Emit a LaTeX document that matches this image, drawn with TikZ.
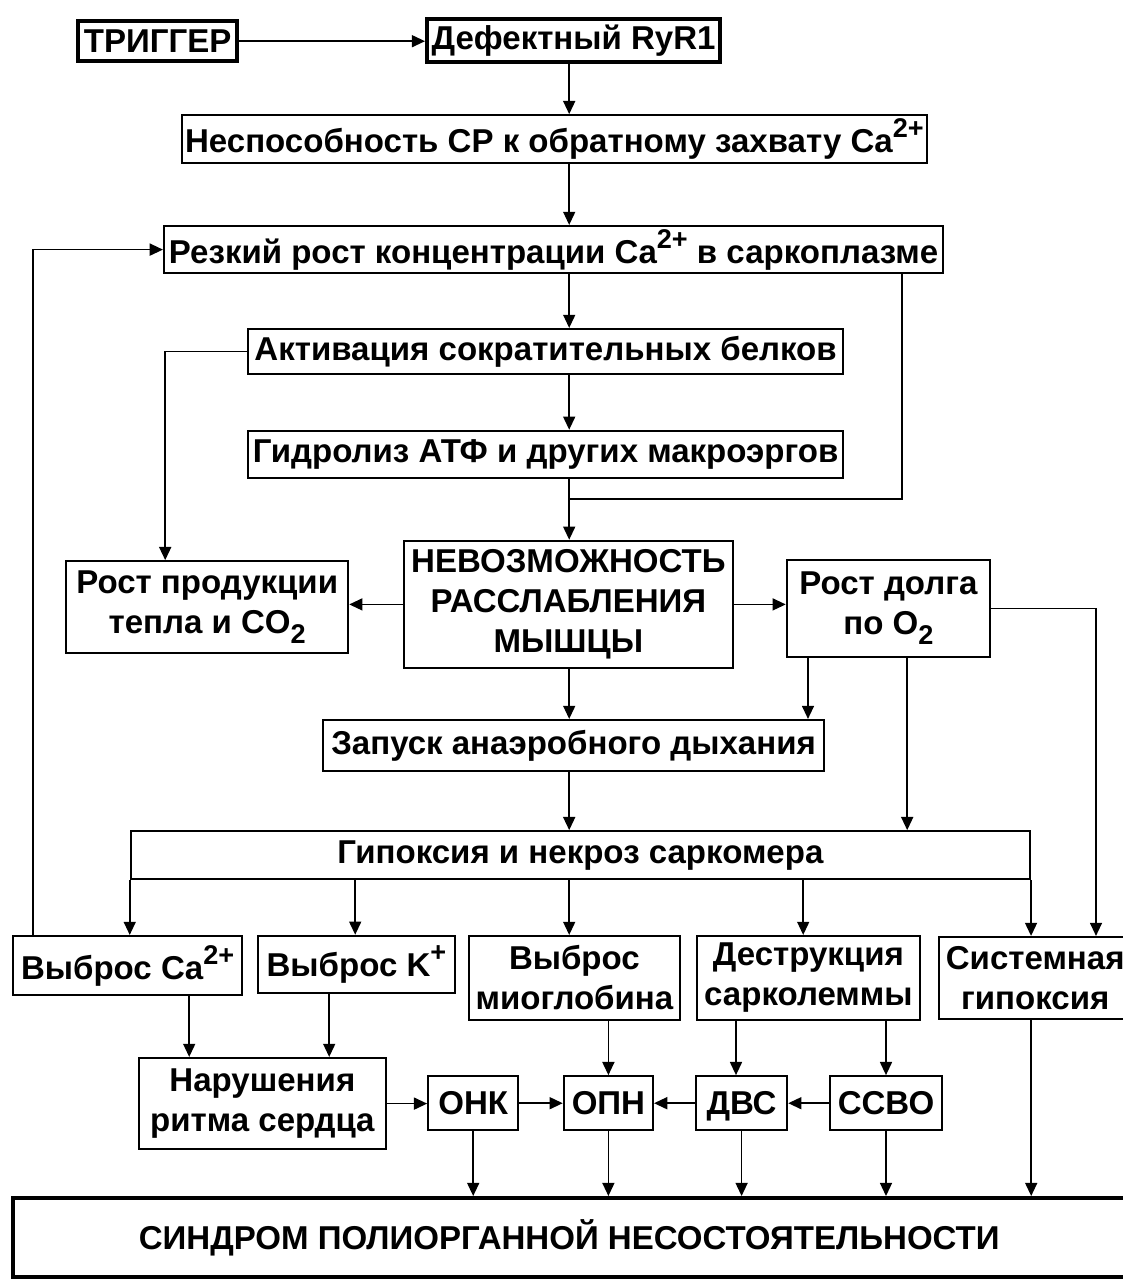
\documentclass[tikz,border=0pt]{standalone}
\usepackage{fontspec}
\setmainfont{Liberation Sans}
\usetikzlibrary{arrows.meta, positioning}
\newcommand{\sups}[1]{\raisebox{0.45em}{\scalebox{0.82}{#1}}}
\newcommand{\subs}[1]{\raisebox{-0.3em}{\scalebox{0.82}{#1}}}

\begin{document}
\begin{tikzpicture}[
    box/.style={draw, line width=1.5pt, inner sep=1pt, align=center, font=\fontsize{23.5}{28.5}\selectfont\bfseries},
    thickbox/.style={box, line width=2.8pt},
    arrow/.style={-{Triangle[length=3.3mm, width=3mm]}, line width=1.2pt},
    line/.style={line width=1.2pt}
]
    \useasboundingbox (0,0) rectangle (28.05,-31.975);
    \coordinate (axis) at (14.23,0);

    \node[thickbox, minimum width=3.98cm, minimum height=1cm] (trig) at (3.94,-1.03) {ТРИГГЕР};
    \node[thickbox, minimum width=7.33cm, minimum height=1.08cm] (ryr) at (14.34,-1.01) {Дефектный RyR1};
    \node[box, minimum width=18.63cm, minimum height=1.2cm] (nesp) at (13.86,-3.48) {Неспособность СР к обратному захвату Ca\sups{2+}};
    \node[box, minimum width=19.48cm, minimum height=1.18cm] (rost) at (13.84,-6.24) {Резкий рост концентрации Ca\sups{2+} в саркоплазме};
    \node[box, minimum width=14.88cm, minimum height=1.13cm] (aktiv) at (13.64,-8.79) {Активация сократительных белков};
    \node[box, minimum width=14.88cm, minimum height=1.18cm] (gidr) at (13.64,-11.36) {Гидролиз АТФ и других макроэргов};
    \node[box, minimum width=8.23cm, minimum height=3.18cm] (nevoz) at (14.21,-15.11) {НЕВОЗМОЖНОСТЬ\\РАССЛАБЛЕНИЯ\\МЫШЦЫ};
    \node[box, minimum width=7.05cm, minimum height=2.3cm] (teplo) at (5.18,-15.18) {Рост продукции\\тепла и CO\subs{2}};
    \node[box, minimum width=5.08cm, minimum height=2.43cm] (dolg) at (22.21,-15.21) {Рост долга\\по O\subs{2}};
    \node[box, minimum width=12.53cm, minimum height=1.28cm] (zapusk) at (14.34,-18.64) {Запуск анаэробного дыхания};
    \node[box, minimum width=22.48cm, minimum height=1.2cm] (gipox) at (14.51,-21.38) {Гипоксия и некроз саркомера};
    \node[box, minimum width=5.73cm, minimum height=1.48cm] (vca) at (3.19,-24.14) {Выброс Ca\sups{2+}};
    \node[box, minimum width=4.93cm, minimum height=1.43cm] (vk) at (8.91,-24.11) {Выброс K\sups{+}};
    \node[box, minimum width=5.28cm, minimum height=2.1cm] (vmio) at (14.36,-24.45) {Выброс\\миоглобина};
    \node[box, minimum width=5.58cm, minimum height=2.1cm] (destr) at (20.21,-24.45) {Деструкция\\сарколеммы};
    \node[box, minimum width=4.8cm, minimum height=2.05cm] (sist) at (25.88,-24.45) {Системная\\гипоксия};
    \node[box, minimum width=6.18cm, minimum height=2.28cm] (narush) at (6.56,-27.59) {Нарушения\\ритма сердца};
    \node[box, minimum width=2.25cm, minimum height=1.35cm] (onk) at (11.83,-27.58) {ОНК};
    \node[box, minimum width=2.23cm, minimum height=1.35cm] (opn) at (15.21,-27.58) {ОПН};
    \node[box, minimum width=2.28cm, minimum height=1.35cm, text depth=0pt] (dvs) at (18.54,-27.58) {ДВС};
    \node[box, minimum width=2.8cm, minimum height=1.35cm] (ssvo) at (22.15,-27.58) {ССВО};
    \node[thickbox, minimum width=27.8cm, minimum height=1.98cm] (sindr) at (14.23,-30.94) {СИНДРОМ ПОЛИОРГАННОЙ НЕСОСТОЯТЕЛЬНОСТИ};

    % central column
    \draw[arrow] (trig.east) -- (trig.east -| ryr.west);
    \draw[arrow] (ryr.south -| axis) -- (nesp.north -| axis);
    \draw[arrow] (nesp.south -| axis) -- (rost.north -| axis);
    \draw[arrow] (rost.south -| axis) -- (aktiv.north -| axis);
    \draw[arrow] (aktiv.south -| axis) -- (gidr.north -| axis);
    \draw[arrow] (gidr.south -| axis) -- (nevoz.north -| axis);
    \draw[line] (rost.south -| 22.55,0) -- (22.55,-12.48) -- (axis |- 0,-12.48);
    \draw[arrow] (aktiv.west) -| (4.13,0 |- teplo.north);
    \draw[arrow] (nevoz.west) -- (nevoz.west -| teplo.east);
    \draw[arrow] (nevoz.east) -- (nevoz.east -| dolg.west);
    \draw[arrow] (nevoz.south -| axis) -- (zapusk.north -| axis);
    \draw[arrow] (dolg.south -| 20.2,0) -- (zapusk.north -| 20.2,0);
    \draw[arrow] (dolg.south -| 22.68,0) -- (gipox.north -| 22.68,0);
    \draw[arrow] (dolg.east) -| (27.4,0 |- sist.north);
    \draw[arrow] (zapusk.south -| axis) -- (gipox.north -| axis);

    % fan out of hypoxia
    \draw[arrow] (gipox.south west) -- (gipox.south west |- vca.north);
    \draw[arrow] (gipox.south -| 8.88,0) -- (vk.north -| 8.88,0);
    \draw[arrow] (gipox.south -| axis) -- (vmio.north -| axis);
    \draw[arrow] (gipox.south -| 20.08,0) -- (destr.north -| 20.08,0);
    \draw[arrow] (gipox.south east) -- (gipox.south east |- sist.north);
    \draw[arrow] (vca.north -| 0.83,0) -- (0.83,0 |- rost.west) -- (rost.west);

    % lower row
    \draw[arrow] (vca.south -| 4.73,0) -- (narush.north -| 4.73,0);
    \draw[arrow] (vk.south -| 8.23,0) -- (narush.north -| 8.23,0);
    \draw[arrow] (vmio.south -| opn) -- (opn.north);
    \draw[arrow] (destr.south -| 18.4,0) -- (dvs.north -| 18.4,0);
    \draw[arrow] (destr.south -| ssvo) -- (ssvo.north);
    \draw[arrow] (narush.east) -- (narush.east -| onk.west);
    \draw[arrow] (onk) -- (opn);
    \draw[arrow] (dvs) -- (opn);
    \draw[arrow] (ssvo) -- (dvs);

    % into the syndrome
    \draw[arrow] (onk.south) -- (onk.south |- sindr.north);
    \draw[arrow] (opn.south) -- (opn.south |- sindr.north);
    \draw[arrow] (dvs.south) -- (dvs.south |- sindr.north);
    \draw[arrow] (ssvo.south) -- (ssvo.south |- sindr.north);
    \draw[arrow] (sist.south -| 25.78,0) -- (sindr.north -| 25.78,0);
\end{tikzpicture}
\end{document}
